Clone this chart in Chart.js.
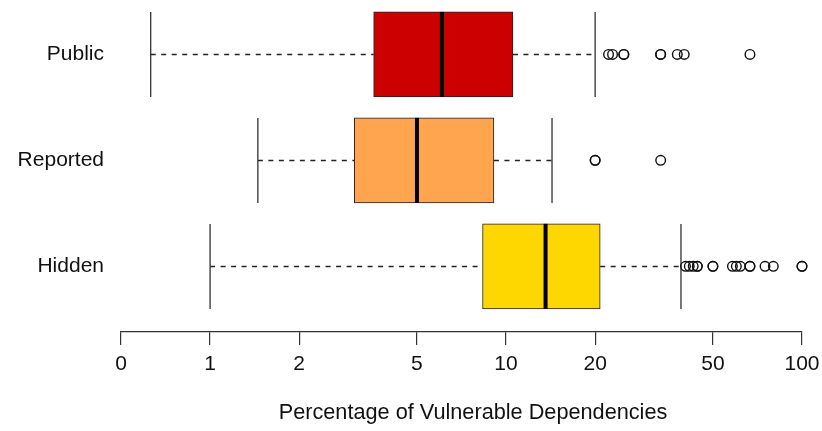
<!DOCTYPE html>
<html>
<head>
<meta charset="utf-8">
<script src="https://cdn.jsdelivr.net/npm/chart.js@4.4.1/dist/chart.umd.min.js"></script>
<style>
  html, body { margin: 0; padding: 0; background: #fff; }
  canvas { display: block; }
</style>
</head>
<body>
<canvas id="chart" width="822" height="431"></canvas>
<script>
'use strict';

// ── Data (percent) ───────────────────────────────────────────────────────────

const groups      = ['Public', 'Reported', 'Hidden'];
const whiskerLow  = [0.63, 1.45, 1.0];
const q1          = [3.57, 3.07, 8.33];
const median      = [6.07, 5.0, 13.6];
const q3          = [10.55, 9.1, 20.8];
const whiskerHigh = [20.0, 14.3, 39.0];

const publicOut   = [22.2, 22.9, 25, 25, 33.3, 33.3, 37.9, 40, 66.7];
const reportedOut = [20, 20, 33.3];
const hiddenOut   = [40.4, 41.6, 42.9, 44.3, 44.3, 50, 50, 58.2, 60, 61.9,
                     66.7, 66.7, 75, 80, 100, 100];

// "0" sits where 0.5 would be on the log axis
const xTickValues = [0.5, 1, 2, 5, 10, 20, 50, 100];
const xTickLabels = ['0', '1', '2', '5', '10', '20', '50', '100'];

const boxColors = ['#CD0000', '#FFA54F', '#FFD700'];
const xTitle = 'Percentage of Vulnerable Dependencies';

const FONT = '"Liberation Sans", Arial, Helvetica, sans-serif';
const BOX_H = 85;

// ── Whiskers, staples, medians ───────────────────────────────────────────────

const boxParts = {
  id: 'boxParts',
  beforeDatasetsDraw(chart) {
    const { ctx, scales: { x, y } } = chart;
    ctx.save();
    groups.forEach((g, i) => {
      const cy = Math.round(y.getPixelForValue(i + 1)) + 0.5;
      // dashed whiskers
      ctx.strokeStyle = '#222';
      ctx.lineWidth = 1.3;
      ctx.setLineDash([5, 5.5]);
      ctx.beginPath();
      ctx.moveTo(x.getPixelForValue(whiskerLow[i]), cy);
      ctx.lineTo(x.getPixelForValue(q1[i]), cy);
      ctx.moveTo(x.getPixelForValue(q3[i]), cy);
      ctx.lineTo(x.getPixelForValue(whiskerHigh[i]), cy);
      ctx.stroke();
      // staples
      ctx.setLineDash([]);
      ctx.strokeStyle = '#333';
      ctx.beginPath();
      [whiskerLow[i], whiskerHigh[i]].forEach(v => {
        const px = x.getPixelForValue(v);
        ctx.moveTo(px, cy - BOX_H / 2);
        ctx.lineTo(px, cy + BOX_H / 2);
      });
      ctx.stroke();
    });
    ctx.restore();
  },
  afterDatasetsDraw(chart) {
    const { ctx, scales: { x, y } } = chart;
    ctx.save();
    ctx.strokeStyle = '#000';
    ctx.lineWidth = 4;
    groups.forEach((g, i) => {
      const cy = y.getPixelForValue(i + 1);
      const px = x.getPixelForValue(median[i]);
      ctx.beginPath();
      ctx.moveTo(px, cy - BOX_H / 2);
      ctx.lineTo(px, cy + BOX_H / 2);
      ctx.stroke();
    });
    // axis title, centred like the original plot region
    ctx.fillStyle = '#111';
    ctx.font = '21.7px ' + FONT;
    ctx.textAlign = 'center';
    ctx.textBaseline = 'middle';
    ctx.fillText(xTitle, 473, 413);
    ctx.restore();
  }
};

// ── Chart ────────────────────────────────────────────────────────────────────

const outlierPoints = [
  ...publicOut.map(v => ({ x: v, y: 1 })),
  ...reportedOut.map(v => ({ x: v, y: 2 })),
  ...hiddenOut.map(v => ({ x: v, y: 3 })),
];

new Chart(document.getElementById('chart'), {
  type: 'bar',
  data: {
    datasets: [
      {
        type: 'bar',
        data: groups.map((g, i) => ({ x: [q1[i], q3[i]], y: i + 1 })),
        backgroundColor: boxColors,
        borderColor: '#222',
        borderWidth: 1,
        borderSkipped: false,
        barThickness: BOX_H,
      },
      {
        type: 'scatter',
        data: outlierPoints,
        pointStyle: 'circle',
        pointRadius: 4.8,
        borderWidth: 1.4,
        borderColor: '#111',
        backgroundColor: 'rgba(0,0,0,0)',
        clip: false,
      },
    ],
  },
  options: {
    indexAxis: 'y',
    responsive: false,
    animation: false,
    layout: { padding: { left: 0, right: 20, top: 0, bottom: 0 } },
    plugins: {
      legend: { display: false },
      tooltip: { enabled: false },
    },
    scales: {
      x: {
        type: 'logarithmic',
        min: 0.5,
        max: 100,
        afterBuildTicks: s => { s.ticks = xTickValues.map(v => ({ value: v })); },
        afterFit: s => { s.height = 99; s.paddingLeft = 0; s.paddingRight = 0; },
        border: { display: true, color: '#333', width: 1.2 },
        grid: { drawOnChartArea: false, drawTicks: true, tickLength: 13, color: '#333', lineWidth: 1.2 },
        ticks: {
          autoSkip: false,
          maxRotation: 0,
          minRotation: 0,
          padding: 7,
          color: '#111',
          font: { family: FONT, size: 21, lineHeight: 1.2 },
          callback: v => xTickLabels[xTickValues.indexOf(v)] ?? '',
        },
      },
      y: {
        type: 'linear',
        reverse: true,
        offset: false,
        min: 0.545,
        max: 3.62,
        afterBuildTicks: s => { s.ticks = groups.map((g, i) => ({ value: i + 1 })); },
        afterFit: s => { s.width = 121; s.paddingTop = 0; s.paddingBottom = 0; },
        border: { display: false },
        grid: { display: false, drawTicks: false },
        ticks: {
          padding: 17,
          color: '#111',
          font: { family: FONT, size: 21 },
          callback: v => groups[v - 1] ?? '',
        },
      },
    },
  },
  plugins: [boxParts],
});
</script>
</body>
</html>
